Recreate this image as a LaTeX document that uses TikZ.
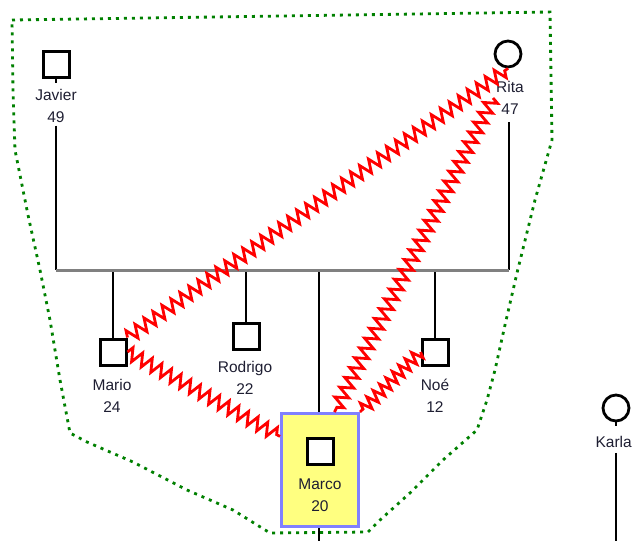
\documentclass[tikz,border=0pt]{standalone}
\usepackage{fontspec}
\setmainfont{Liberation Sans}
\usetikzlibrary{decorations.pathmorphing}
\definecolor{hull}{RGB}{0,128,0}
\definecolor{boxfill}{RGB}{255,255,128}
\definecolor{boxline}{RGB}{128,128,255}
\definecolor{txt}{RGB}{30,30,50}
\definecolor{sibgray}{RGB}{128,128,128}
\begin{document}
\begin{tikzpicture}[x=1pt,y=-1pt,
  sq/.style={draw=black,line width=3pt,minimum size=26pt,inner sep=0pt,fill=white},
  circ/.style={circle,draw=black,line width=2.8pt,minimum size=26pt,inner sep=0pt,fill=white},
  lbl/.style={font=\fontsize{15.5}{21.5}\selectfont,align=center,inner sep=0pt,text=txt},
  kin/.style={draw=black,line width=2.8pt},
  sib/.style={draw=sibgray,line width=3pt},
  zz/.style={draw=red,line width=2.8pt,decorate,decoration={zigzag,segment length=11pt,amplitude=6.5pt}},
  zzs/.style={draw=red,line width=2.8pt,decorate,decoration={zigzag,segment length=9pt,amplitude=6pt}},
  hullline/.style={draw=hull,line width=2.8pt,dash pattern=on 3pt off 5pt},
  probandbox/.style={draw=boxline,fill=boxfill,line width=3pt,minimum width=77pt,minimum height=113pt,inner sep=0pt}]
\useasboundingbox (0,0) rectangle (633,541);
% hull outline
\draw[hullline] (12,20) -- (550,12) -- (552,140) -- (535,200) -- (517,273) -- (505,325)
  -- (495,370) -- (487,400) -- (477,430) -- (443,460) -- (410,493) -- (380,520) -- (368,532)
  -- (270,533) -- (233,510) -- (187,490) -- (133,462) -- (87,442) -- (70,433) -- (60,380)
  -- (50,320) -- (40,270) -- (28,215) -- (15,150) -- (13,90) -- cycle;
% proband box
\node[probandbox] (marcobox) at (320,470) {};
% individuals
\node[sq] (javier) at (56,64) {};
\node[lbl] (javierl) at (56,106) {Javier\\49};
\node[circ] (rita) at (508,54) {};
\node[lbl] (rital) at (510,98) {Rita\\47};
\node[sq] (mario) at (113,352) {};
\node[lbl] (mariol) at (112,396) {Mario\\24};
\node[sq] (rodrigo) at (246,336) {};
\node[lbl] (rodrigol) at (245,378) {Rodrigo\\22};
\node[sq] (marco) at (320,451) {};
\node[lbl] (marcol) at (320,495) {Marco\\20};
\node[sq] (noe) at (435,352) {};
\node[lbl] (noel) at (435,396) {Noé\\12};
\node[circ] (karla) at (616,408) {};
\node[lbl,anchor=east] (karlal) at (632,442) {Karla};
% coordinates
\coordinate (sibL) at (56,270);
\coordinate (sibR) at (509,270);
\coordinate (cMario) at (113,270);
\coordinate (cRodrigo) at (246,270);
\coordinate (cMarco) at (319,270);
\coordinate (cNoe) at (435,270);
\coordinate (jt) at (56,83);
\coordinate (kt) at (616,426);
\coordinate (marcoDown) at (319,541);
\coordinate (karlaDown) at (616,541);
\coordinate (ritaTop) at (509,122);
% lines
\draw[kin] (javier.south) -- (jt);
\draw[kin] (karla.south) -- (kt);
\draw[kin] (javierl.south) ++(0,3) -- (sibL);
\draw[kin] (ritaTop) -- (sibR);
\draw[kin] (cMario) -- (mario.north);
\draw[kin] (cRodrigo) -- (rodrigo.north);
\draw[kin] (cMarco) -- (marcobox.north -| cMarco);
\draw[kin] (cNoe) -- (noe.north);
\draw[kin] (marcobox.south -| marcoDown) -- (marcoDown);
\draw[kin] (karlal.south -| karla) ++(0,5) -- (karlaDown);
\draw[sib] (sibL) -- (sibR);
% relationship zigzags
\draw[zz] (mario.north east) -- (rita.south);
\draw[zz] (rital.west) ++(-3,0) -- (marcobox.76);
\draw[zz] (mario.east) -- (marcobox.140);
\draw[zzs] (noe.west) -- (marcobox.north east);
\end{tikzpicture}
\end{document}
